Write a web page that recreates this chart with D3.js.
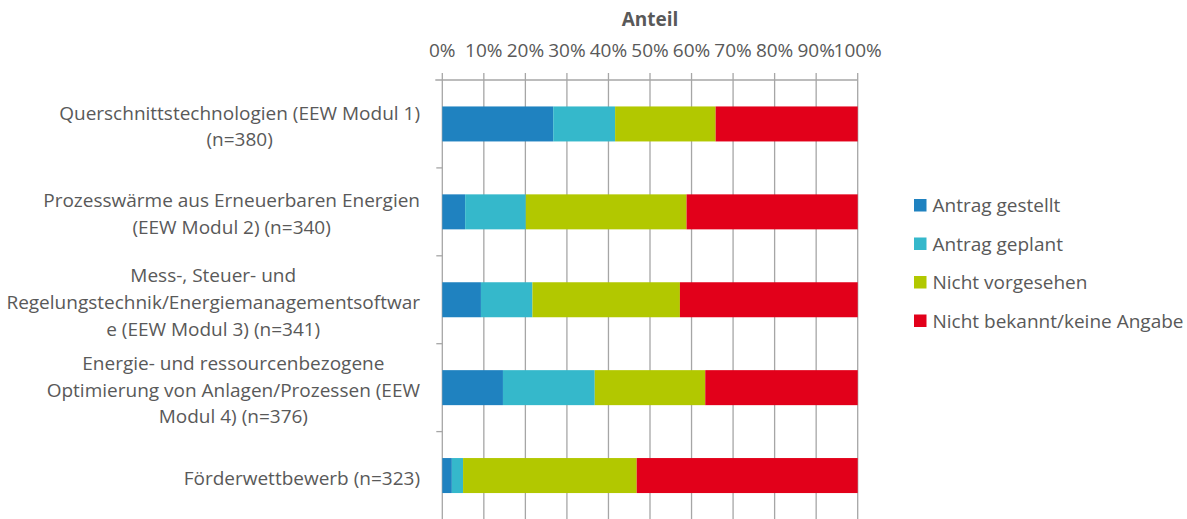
<!DOCTYPE html>
<html><head><meta charset="utf-8">
<script src="https://cdn.jsdelivr.net/npm/d3@7"></script>
<style>body{margin:0;background:#fff}svg{display:block}text{font-family:"Open Sans",sans-serif;fill:#595959}</style>
</head><body><svg id="c" width="1187" height="519"></svg>
<script>
const categories = [
  ["Querschnittstechnologien (EEW Modul 1)", "(n=380)"],
  ["Prozesswärme aus Erneuerbaren Energien", "(EEW Modul 2) (n=340)"],
  ["Mess-, Steuer- und", "Regelungstechnik/Energiemanagementsoftwar", "e (EEW Modul 3) (n=341)"],
  ["Energie- und ressourcenbezogene", "Optimierung von Anlagen/Prozessen (EEW", "Modul 4) (n=376)"],
  ["Förderwettbewerb (n=323)"]
];
const seriesNames = ["Antrag gestellt", "Antrag geplant", "Nicht vorgesehen", "Nicht bekannt/keine Angabe"];
const antragGestellt = [26.7, 5.5, 9.3, 14.6, 2.3];
const antragGeplant = [14.9, 14.6, 12.4, 22.1, 2.7];
const nichtVorgesehen = [24.2, 38.7, 35.5, 26.6, 41.8];
const nichtBekannt = [34.2, 41.2, 42.8, 36.7, 53.2];
const tickValues = [0, 10, 20, 30, 40, 50, 60, 70, 80, 90, 100];
const colors = ["#1f82c0", "#35b8cb", "#b2c800", "#e2001a"];

const svg = d3.select("#c");
const L = 442.3, R = 857.7, T = 80, B = 519.5;
const x = d3.scaleLinear().domain([0, 100]).range([L, R]);
const y = d3.scaleBand().domain(d3.range(categories.length)).range([T, B]).paddingInner(0).paddingOuter(0);
const barH = 35;
const grid = "#a6a6a6";
const fs = 19;

const rows = categories.map((c, i) => ({i, vals: [antragGestellt[i], antragGeplant[i], nichtVorgesehen[i], nichtBekannt[i]]}));
const stack = d3.stack().keys([0,1,2,3]).value((d, k) => d.vals[k]);
const stacked = stack(rows);

// gridlines
svg.append("g").selectAll("line").data(tickValues).join("line")
  .attr("x1", d => x(d)).attr("x2", d => x(d)).attr("y1", T - 7).attr("y2", B)
  .attr("stroke", grid).attr("stroke-width", 1.3);
// top axis line
svg.append("line").attr("x1", L - 7).attr("x2", R).attr("y1", T).attr("y2", T).attr("stroke", grid).attr("stroke-width", 1.3);
// category ticks
svg.append("g").selectAll("line").data(d3.range(1, categories.length)).join("line")
  .attr("x1", L - 6).attr("x2", L).attr("y1", d => T + d * y.step()).attr("y2", d => T + d * y.step())
  .attr("stroke", grid).attr("stroke-width", 1.3);

// bars
svg.append("g").selectAll("g").data(stacked).join("g").attr("fill", (d, k) => colors[k])
  .selectAll("rect").data(d => d).join("rect")
  .attr("x", d => x(d[0])).attr("width", d => x(d[1]) - x(d[0]))
  .attr("y", d => y(d.data.i) + (y.bandwidth() - barH) / 2).attr("height", barH);

// tick labels
svg.append("g").selectAll("text").data(tickValues).join("text")
  .attr("x", d => x(d)).attr("y", 50).attr("text-anchor", "middle").attr("dominant-baseline", "central")
  .attr("font-size", fs).text(d => d + "%");
svg.append("text").attr("x", (L + R) / 2).attr("y", 19).attr("text-anchor", "middle").attr("dominant-baseline", "central")
  .attr("font-size", fs).attr("font-weight", "bold").text("Anteil");

// category labels
const lh = 26.8;
categories.forEach((lines, i) => {
  const g = svg.append("g");
  const cy = y(i) + y.bandwidth() / 2 + 2;
  const ts = lines.map((ln, j) => g.append("text").attr("font-size", fs).attr("text-anchor", "middle")
    .attr("dominant-baseline", "central").attr("y", cy + (j - (lines.length - 1) / 2) * lh).text(ln));
  const w = d3.max(ts, t => t.node().getComputedTextLength());
  ts.forEach(t => t.attr("x", 420 - w / 2));
});

// legend
const lg = svg.append("g").selectAll("g").data(seriesNames).join("g")
  .attr("transform", (d, k) => `translate(914,${205 + k * 38.5})`);
lg.append("rect").attr("x", 0).attr("y", -6).attr("width", 12.5).attr("height", 12.5).attr("fill", (d, k) => colors[k]);
lg.append("text").attr("x", 18.5).attr("y", 0).attr("dominant-baseline", "central").attr("font-size", fs).text(d => d);
</script></body></html>
